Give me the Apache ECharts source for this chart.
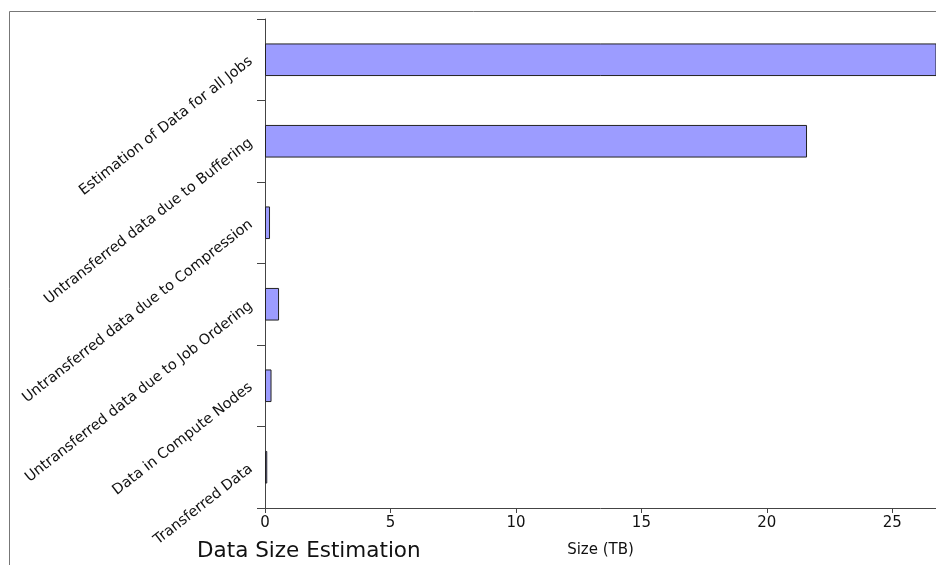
<!DOCTYPE html>
<html>
<head>
<meta charset="utf-8">
<script src="https://cdn.jsdelivr.net/npm/echarts@6/dist/echarts.min.js"></script>
<style>
html,body{margin:0;padding:0;background:#fff;}
#chart{width:936px;height:565px;}
</style>
</head>
<body>
<div id="chart"></div>
<script>
const categories = [
  "Transferred Data",
  "Data in Compute Nodes",
  "Untransferred data due to Job Ordering",
  "Untransferred data due to Compression",
  "Untransferred data due to Buffering",
  "Estimation of Data for all Jobs"
];
const sizesTB = [0.09, 0.26, 0.56, 0.2, 21.6, 28];
const xTickValues = [0, 5, 10, 15, 20, 25];
const chartTitle = "Data Size Estimation";
const xAxisName = "Size (TB)";

const FONT = "DejaVu Sans";
const chart = echarts.init(document.getElementById('chart'), null, {renderer: 'canvas'});
chart.setOption({
  animation: false,
  backgroundColor: '#ffffff',
  textStyle: {fontFamily: FONT},
  graphic: [
    {
      type: 'rect',
      shape: {x: 9.5, y: 11.5, width: 2000, height: 2000},
      style: {fill: 'none', stroke: '#777777', lineWidth: 1},
      silent: true
    },
    {
      type: 'text',
      left: 197,
      top: 540,
      style: {text: chartTitle, font: '21.5px "DejaVu Sans"', fill: '#111'}
    }
  ],
  grid: {left: 265, right: 0, top: 19, bottom: 57, containLabel: false},
  xAxis: {
    type: 'value',
    min: 0,
    max: 26.74,
    interval: 5,
    name: xAxisName,
    nameLocation: 'middle',
    nameGap: 35,
    nameTextStyle: {fontSize: 15, color: '#111', fontFamily: FONT},
    axisLine: {show: true, lineStyle: {color: '#444', width: 1}},
    axisTick: {show: true, length: 5, lineStyle: {color: '#444'}},
    splitLine: {show: false},
    axisLabel: {
      fontSize: 15, color: '#111', margin: 8, fontFamily: FONT,
      showMaxLabel: false,
      formatter: function (v) { return xTickValues.indexOf(v) >= 0 ? String(v) : ''; }
    }
  },
  yAxis: {
    type: 'category',
    data: categories,
    axisLine: {show: true, lineStyle: {color: '#444', width: 1}},
    axisTick: {show: true, length: 8, alignWithLabel: false, lineStyle: {color: '#444'}},
    axisLabel: {
      rotate: 38, fontSize: 14.5, color: '#111', margin: 14, fontFamily: FONT, interval: 0
    },
    splitLine: {show: false}
  },
  series: [{
    type: 'bar',
    data: sizesTB,
    barWidth: '40%',
    clip: true,
    itemStyle: {color: '#9c9cff', borderColor: '#222', borderWidth: 1}
  }]
});
</script>
</body>
</html>
